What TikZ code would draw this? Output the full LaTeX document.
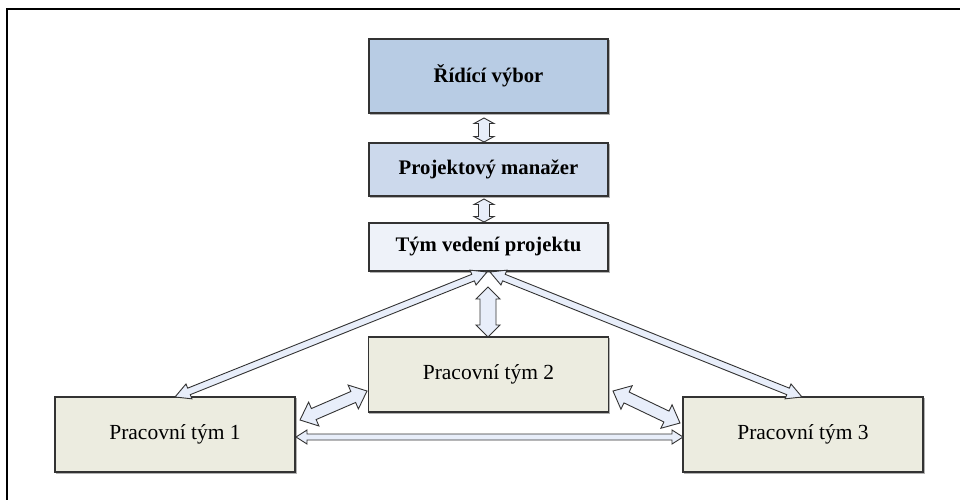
\documentclass[tikz,border=0pt]{standalone}
\usepackage{fontspec}
\setmainfont{Liberation Serif}
\usetikzlibrary{calc}
\definecolor{rvfill}{HTML}{B8CCE4}
\definecolor{pmfill}{HTML}{CCD9EC}
\definecolor{tvfill}{HTML}{EEF2F9}
\definecolor{ptfill}{HTML}{ECECE0}
\definecolor{arrfill}{HTML}{E8EEFA}
\definecolor{edgecol}{HTML}{333333}
\newdimen\arrdx \newdimen\arrdy
\newcommand{\blockarrow}[5]{%
  \pgfextractx{\arrdx}{\pgfpointdiff{\pgfpointanchor{#1}{center}}{\pgfpointanchor{#2}{center}}}%
  \pgfextracty{\arrdy}{\pgfpointdiff{\pgfpointanchor{#1}{center}}{\pgfpointanchor{#2}{center}}}%
  \pgfmathsetmacro\arrlen{veclen(\arrdx,\arrdy)}%
  \pgfmathsetmacro\arrang{atan2(\arrdy,\arrdx)}%
  \pgfmathsetmacro\arrend{\arrlen-#5}%
  \begin{scope}[shift={(#1)}, rotate=\arrang]
    \draw[blockarr] (0,0) -- (#5,#4) -- (#5,#3) -- (\arrend,#3) -- (\arrend,#4) -- (\arrlen,0) -- (\arrend,-#4) -- (\arrend,-#3) -- (#5,-#3) -- (#5,-#4) -- cycle;
  \end{scope}}
\tikzset{
  boxbase/.style={draw=edgecol, line width=1.2pt, inner sep=0pt, align=center,
    preaction={draw=black!30, line width=1.2pt, transform canvas={shift={(1.3pt,-1.3pt)}}}},
  topbox/.style={boxbase, minimum width=239pt, font=\fontsize{20.7}{24}\selectfont\bfseries},
  teambox/.style={boxbase, fill=ptfill, minimum width=240pt, minimum height=75pt, font=\fontsize{21.5}{25}\selectfont},
  blockarr/.style={draw=edgecol, line width=0.9pt, fill=arrfill, line join=miter},
  framebox/.style={draw=black, line width=2.4pt}
}
\begin{document}
\begin{tikzpicture}[x=1pt,y=-1pt]
\useasboundingbox (0,0) rectangle (960,499);
\clip (0,0) rectangle (960,499);
\fill[white] (0,0) rectangle (960,499);
\draw[framebox] (7,520) -- (7,9) -- (980,9);

\node[topbox, fill=rvfill, minimum height=74pt] (rv) at (488.5,76) {Řídící výbor};
\node[topbox, fill=pmfill, minimum height=53pt] (pm) at (488.5,169.5) {Projektový manažer};
\node[topbox, fill=tvfill, minimum height=48pt] (tv) at (488.5,247) {Tým vedení projektu};

\node[teambox] (p2) at (488.5,374.5) {Pracovní tým 2};
\node[teambox] (p1) at (175,434.5) {Pracovní tým 1};
\node[teambox] (p3) at (803,434.5) {Pracovní tým 3};

% arrow end points
\coordinate (a1s) at (484,118);
\coordinate (a1e) at (484,142);
\coordinate (a2s) at (484,199);
\coordinate (a2e) at (484,222);
\coordinate (a3s) at (488,287);
\coordinate (a3e) at (488,337);
\coordinate (a4s) at (487,272);
\coordinate (a4e) at (175,397);
\coordinate (a5s) at (490,272);
\coordinate (a5e) at (802,397);
\coordinate (a6s) at (300,420);
\coordinate (a6e) at (367,391);
\coordinate (a7s) at (613,391);
\coordinate (a7e) at (680,423);
\coordinate (a8s) at (296,437);
\coordinate (a8e) at (683,437);

\blockarrow{a1s}{a1e}{5.5}{10}{5.5}
\blockarrow{a2s}{a2e}{5.5}{10}{5.5}
\blockarrow{a3s}{a3e}{8}{12}{12}
\blockarrow{a4s}{a4e}{3.5}{8}{15}
\blockarrow{a5s}{a5e}{3.5}{8}{15}
\blockarrow{a6s}{a6e}{6}{13}{15}
\blockarrow{a7s}{a7e}{6}{13}{15}
\blockarrow{a8s}{a8e}{3}{7}{11}
\end{tikzpicture}
\end{document}
